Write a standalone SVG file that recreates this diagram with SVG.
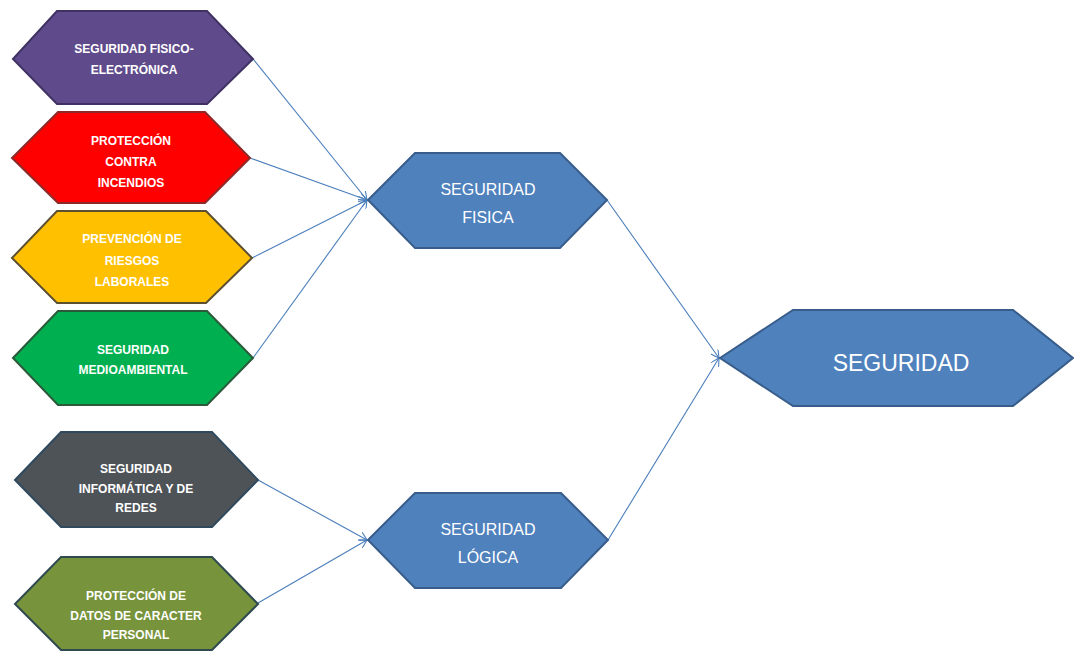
<svg xmlns="http://www.w3.org/2000/svg" width="1074" height="653" viewBox="0 0 1074 653">
<style>
.hex{stroke-width:2;stroke-linejoin:miter}
.small{font-family:"Liberation Sans",Arial,sans-serif;font-size:12px;font-weight:bold;fill:#ffffff;text-anchor:middle}
.mid{font-family:"Liberation Sans",Arial,sans-serif;font-size:16px;fill:#ffffff;text-anchor:middle}
.big{font-family:"Liberation Sans",Arial,sans-serif;font-size:23px;fill:#ffffff;text-anchor:middle}
.conn{stroke:#4a7ebb;stroke-width:1.1;fill:none}
</style>
<defs>
<marker id="arr" viewBox="0 0 10 10" refX="9" refY="5" markerWidth="9" markerHeight="9" orient="auto" markerUnits="userSpaceOnUse">
<path d="M0,0 L9,5 L0,10" fill="none" stroke="#4a7ebb" stroke-width="1.2"/>
</marker>
</defs>
<rect width="1074" height="653" fill="#ffffff"/>
<g id="connectors">
<line class="conn" x1="253" y1="59" x2="367" y2="200" marker-end="url(#arr)"/>
<line class="conn" x1="250" y1="158" x2="367" y2="200" marker-end="url(#arr)"/>
<line class="conn" x1="252" y1="258" x2="367" y2="200" marker-end="url(#arr)"/>
<line class="conn" x1="253" y1="358" x2="367" y2="200" marker-end="url(#arr)"/>
<line class="conn" x1="258" y1="480" x2="367" y2="540" marker-end="url(#arr)"/>
<line class="conn" x1="258" y1="603" x2="367" y2="540" marker-end="url(#arr)"/>
<line class="conn" x1="607" y1="200" x2="719" y2="358" marker-end="url(#arr)"/>
<line class="conn" x1="608" y1="540" x2="719" y2="358" marker-end="url(#arr)"/>
</g>
<g id="n1">
<polygon class="hex" points="13,59 57,11 207,11 253,59 207,104 57,104" fill="#5f4b8b" stroke="#3f3263"/>
<text class="small" x="134" y="53">SEGURIDAD FISICO-</text>
<text class="small" x="134" y="74">ELECTRÓNICA</text>
</g>
<g id="n2">
<polygon class="hex" points="12,158 58,112 205,112 250,158 205,203 58,203" fill="#ff0000" stroke="#8c2a2a"/>
<text class="small" x="131" y="145">PROTECCIÓN</text>
<text class="small" x="131" y="166">CONTRA</text>
<text class="small" x="131" y="187">INCENDIOS</text>
</g>
<g id="n3">
<polygon class="hex" points="12,258 57,211 206,211 252,258 206,303 57,303" fill="#ffc000" stroke="#5c5030"/>
<text class="small" x="132" y="243">PREVENCIÓN DE</text>
<text class="small" x="132" y="265">RIESGOS</text>
<text class="small" x="132" y="286">LABORALES</text>
</g>
<g id="n4">
<polygon class="hex" points="13,358 58,311 207,311 253,358 207,405 58,405" fill="#00b050" stroke="#2a5a3a"/>
<text class="small" x="133" y="354">SEGURIDAD</text>
<text class="small" x="133" y="374">MEDIOAMBIENTAL</text>
</g>
<g id="n5">
<polygon class="hex" points="15,480 61,432 212,432 258,480 212,527 61,527" fill="#4e5358" stroke="#2f4a5e"/>
<text class="small" x="136" y="473">SEGURIDAD</text>
<text class="small" x="136" y="493">INFORMÁTICA Y DE</text>
<text class="small" x="136" y="512">REDES</text>
</g>
<g id="n6">
<polygon class="hex" points="15,604 61,557 212,557 258,604 212,650 61,650" fill="#77933c" stroke="#2f4a4e"/>
<text class="small" x="136" y="600">PROTECCIÓN DE</text>
<text class="small" x="136" y="620">DATOS DE CARACTER</text>
<text class="small" x="136" y="639">PERSONAL</text>
</g>
<g id="fisica">
<polygon class="hex" points="368,200 415,153 560,153 607,200 560,248 415,248" fill="#4f81bd" stroke="#385d8a"/>
<text class="mid" x="488" y="195">SEGURIDAD</text>
<text class="mid" x="488" y="223">FISICA</text>
</g>
<g id="logica">
<polygon class="hex" points="368,540 415,493 561,493 608,540 561,588 415,588" fill="#4f81bd" stroke="#385d8a"/>
<text class="mid" x="488" y="535">SEGURIDAD</text>
<text class="mid" x="488" y="563">LÓGICA</text>
</g>
<g id="seguridad">
<polygon class="hex" points="720,358 793,310 1013,310 1073,358 1013,406 793,406" fill="#4f81bd" stroke="#385d8a"/>
<text class="big" x="901" y="371">SEGURIDAD</text>
</g>
</svg>
